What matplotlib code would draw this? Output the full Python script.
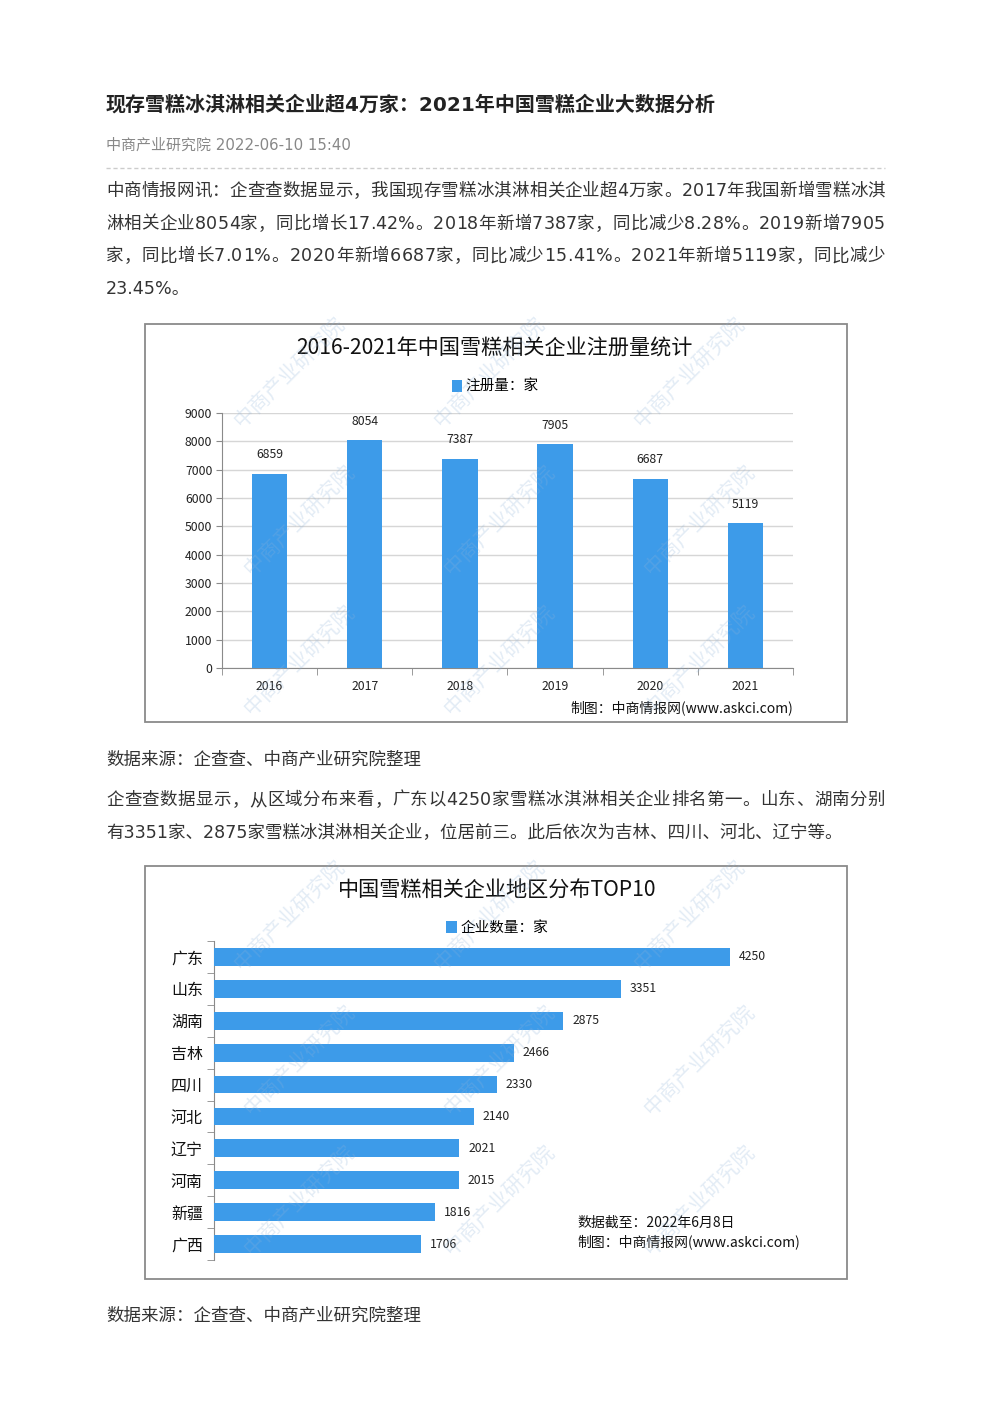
import matplotlib
matplotlib.use("Agg")
import matplotlib.pyplot as plt
from matplotlib.patches import Rectangle
from matplotlib.lines import Line2D

plt.rcParams['font.family'] = ['Noto Sans CJK SC', 'DejaVu Sans']
BODY_FONT = ['DejaVu Sans', 'Noto Sans CJK SC']

# =========================
# data
# =========================

years = ['2016', '2017', '2018', '2019', '2020', '2021']
reg_counts = [6859, 8054, 7387, 7905, 6687, 5119]

provinces = ['广东', '山东', '湖南', '吉林', '四川', '河北', '辽宁', '河南', '新疆', '广西']
firm_counts = [4250, 3351, 2875, 2466, 2330, 2140, 2021, 2015, 1816, 1706]

page_title = "现存雪糕冰淇淋相关企业超4万家：2021年中国雪糕企业大数据分析"
meta_line = "中商产业研究院 2022-06-10 15:40"
para1 = [
    "中商情报网讯：企查查数据显示，我国现存雪糕冰淇淋相关企业超4万家。2017年我国新增雪糕冰淇",
    "淋相关企业8054家，同比增长17.42%。2018年新增7387家，同比减少8.28%。2019新增7905",
    "家，同比增长7.01%。2020年新增6687家，同比减少15.41%。2021年新增5119家，同比减少",
    "23.45%。",
]
para2 = [
    "企查查数据显示，从区域分布来看，广东以4250家雪糕冰淇淋相关企业排名第一。山东、湖南分别",
    "有3351家、2875家雪糕冰淇淋相关企业，位居前三。此后依次为吉林、四川、河北、辽宁等。",
]
source_note = "数据来源：企查查、中商产业研究院整理"

W, H = 992, 1403
BLUE = '#3d9be9'
TXT = '#333333'
TEXT_LEFT, TEXT_RIGHT = 106, 885

fig = plt.figure(figsize=(W / 100, H / 100), dpi=100)
fig.patch.set_facecolor('white')
renderer = fig.canvas.get_renderer()


def fx(x):
    return x / W


def fy(y):
    return 1 - y / H


def px_axes(left, top, right, bottom):
    return fig.add_axes([fx(left), fy(bottom), (right - left) / W, (bottom - top) / H])


# 양쪽 정렬 (justified line, char by char)
def justified_line(line, y, **kw):
    widths = []
    for ch in line:
        t = fig.text(0, 0, ch, **kw)
        widths.append(t.get_window_extent(renderer).width)
        t.remove()
    gap = (TEXT_RIGHT - TEXT_LEFT - sum(widths)) / (len(line) - 1)
    x = TEXT_LEFT
    for ch, w in zip(line, widths):
        fig.text(fx(x), fy(y), ch, va='center', **kw)
        x += w + gap


body_kw = dict(fontsize=12.6, color=TXT, family=BODY_FONT)

# =========================
# article text
# =========================

fig.text(fx(106), fy(105), page_title, fontsize=14.4, fontweight='bold', color='#222222',
         va='center', family=BODY_FONT)
fig.text(fx(106), fy(145), meta_line, fontsize=10.8, color='#888888', va='center', family=BODY_FONT)
fig.add_artist(Line2D([fx(106), fx(885)], [fy(168), fy(168)], color='#cccccc', lw=1,
                      linestyle=(0, (3, 2)), transform=fig.transFigure))

for i, line in enumerate(para1):
    y = 191 + i * 32.7
    if i < len(para1) - 1:
        justified_line(line, y, **body_kw)
    else:
        fig.text(fx(TEXT_LEFT), fy(y), line, va='center', **body_kw)

fig.text(fx(106), fy(760), source_note, va='center', **body_kw)
for i, line in enumerate(para2):
    y = 800 + i * 32
    if i < len(para2) - 1:
        justified_line(line, y, **body_kw)
    else:
        fig.text(fx(TEXT_LEFT), fy(y), line, va='center', **body_kw)
fig.text(fx(106), fy(1316), source_note, va='center', **body_kw)

# chart frames
for (l, t, r, b) in [(145, 324, 847, 722), (145, 866, 847, 1279)]:
    fig.add_artist(Rectangle((fx(l), fy(b)), (r - l) / W, (b - t) / H, transform=fig.transFigure,
                             fill=False, edgecolor='#8a8a8a', lw=1.3))

# watermarks
for (cx, cy) in [(290, 372), (490, 372), (690, 372), (300, 520), (500, 520), (700, 520),
                 (300, 660), (500, 660), (700, 660),
                 (290, 915), (490, 915), (690, 915), (300, 1060), (500, 1060), (700, 1060),
                 (300, 1200), (500, 1200), (700, 1200)]:
    fig.text(fx(cx), fy(cy), "中商产业研究院", fontsize=15, color='#8fb3d9', alpha=0.25,
             rotation=45, ha='center', va='center', zorder=5)

# =========================
# chart 1 : registrations
# =========================

ax1 = px_axes(222, 413, 793, 668)
xpos = list(range(len(years)))
ax1.bar(xpos, reg_counts, width=0.37, color=BLUE, label='注册量：家', zorder=3)
ax1.set_xlim(-0.5, 5.5)
ax1.set_ylim(0, 9000)
ax1.set_yticks(range(0, 9001, 1000))
ax1.yaxis.grid(True, color='#d6d6d6', lw=1, zorder=0)
ax1.set_axisbelow(True)
for s in ['top', 'right']:
    ax1.spines[s].set_visible(False)
for s in ['left', 'bottom']:
    ax1.spines[s].set_color('#8a8a8a')
ax1.set_xticks(xpos)
ax1.set_xticklabels(years)
ax1.set_xticks([p - 0.5 for p in range(len(years) + 1)], minor=True)
ax1.tick_params(axis='x', which='major', length=0, pad=9, labelsize=8.8, labelcolor='#222222')
ax1.tick_params(axis='x', which='minor', length=5, color='#8a8a8a')
ax1.tick_params(axis='y', length=4, color='#8a8a8a', labelsize=8.8, labelcolor='#222222', pad=3)
for x, v in zip(xpos, reg_counts):
    ax1.annotate(str(v), (x, v), xytext=(0, 13.5), textcoords='offset points',
                 ha='center', va='center', fontsize=8.8, color='#222222')

fig.text(fx(494), fy(348), "2016-2021年中国雪糕相关企业注册量统计", fontsize=15.2,
         fontweight='medium', color='#111111', ha='center', va='center')
ax1.legend(loc='center', bbox_to_anchor=(fx(495), fy(387)), bbox_transform=fig.transFigure,
           frameon=False, handlelength=0.75, handleheight=0.9, handletextpad=0.2, fontsize=10.5)
fig.text(fx(793), fy(708), "制图：中商情报网(www.askci.com)", fontsize=10, color='#111111',
         ha='right', va='center')

# =========================
# chart 2 : provinces top 10
# =========================

ax2 = px_axes(214, 941, 797, 1260)
ypos = list(range(len(provinces)))
ax2.barh(ypos, firm_counts, height=0.56, color=BLUE, label='企业数量：家', zorder=3)
ax2.set_xlim(0, 4800)
ax2.set_ylim(len(provinces) - 0.5, -0.5)
for s in ['top', 'right', 'bottom']:
    ax2.spines[s].set_visible(False)
ax2.spines['left'].set_color('#8a8a8a')
ax2.set_xticks([])
ax2.set_yticks(ypos)
ax2.set_yticklabels(provinces)
ax2.set_yticks([p - 0.5 for p in range(len(provinces) + 1)], minor=True)
ax2.tick_params(axis='y', which='major', length=0, pad=8, labelsize=11.5, labelcolor='#111111')
ax2.tick_params(axis='y', which='minor', length=5, color='#8a8a8a')
for y, v in zip(ypos, firm_counts):
    ax2.annotate(str(v), (v, y), xytext=(6.5, 0), textcoords='offset points',
                 ha='left', va='center', fontsize=8.8, color='#222222')

fig.text(fx(497), fy(891), "中国雪糕相关企业地区分布TOP10", fontsize=15.2,
         fontweight='medium', color='#111111', ha='center', va='center')
ax2.legend(loc='center', bbox_to_anchor=(fx(497), fy(928)), bbox_transform=fig.transFigure,
           frameon=False, handlelength=0.75, handleheight=0.9, handletextpad=0.2, fontsize=10.5)
fig.text(fx(577), fy(1223), "数据截至：2022年6月8日", fontsize=10, color='#111111', va='center')
fig.text(fx(577), fy(1242), "制图：中商情报网(www.askci.com)", fontsize=10, color='#111111', va='center')

fig.savefig("out.png", dpi=100, facecolor='white')
